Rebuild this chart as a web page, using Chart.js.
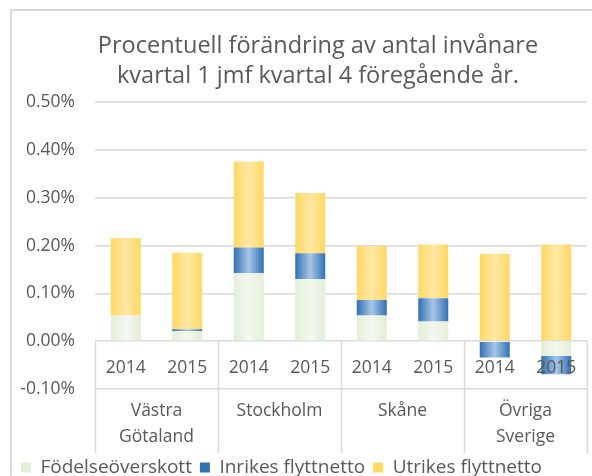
<!DOCTYPE html>
<html><head><meta charset="utf-8">
<script src="https://cdn.jsdelivr.net/npm/chart.js@4.4.1/dist/chart.umd.min.js"></script>
<style>
html,body{margin:0;padding:0;background:#fff;overflow:hidden;width:592px;height:476px;}
#frame{position:absolute;left:10px;top:9px;width:620px;height:480px;border:2px solid #d9d9d9;box-sizing:border-box;}
#wrap{position:absolute;left:0;top:0;width:636px;height:487px;}
</style></head>
<body>
<div id="frame"></div>
<div id="wrap"><canvas id="c"></canvas></div>
<script>
const years = ['2014','2015','2014','2015','2014','2015','2014','2015'];
const regions = [['Västra','Götaland'],['Stockholm'],['Skåne'],['Övriga','Sverige']];
const fodelse = [0.054, 0.021, 0.142, 0.130, 0.054, 0.041, 0.000, -0.031];
const inrikes = [0.000, 0.004, 0.054, 0.054, 0.032, 0.049, -0.034, -0.038];
const utrikes = [0.162, 0.160, 0.180, 0.126, 0.113, 0.112, 0.183, 0.202];
const yTicks = [-0.1, 0, 0.1, 0.2, 0.3, 0.4, 0.5];

const FONT = '"Open Sans", sans-serif';
const TXT = '#595959';
const CATPCT = 0.488;

function grad(edge, mid) {
  return function(c) {
    const chart = c.chart, xs = chart.scales.x;
    if (!xs || !chart.chartArea || c.dataIndex === undefined) return edge;
    const x = xs.getPixelForValue(c.dataIndex);
    const w = (xs.width / years.length) * CATPCT;
    const g = chart.ctx.createLinearGradient(x - w / 2, 0, x + w / 2, 0);
    g.addColorStop(0, edge); g.addColorStop(0.5, mid); g.addColorStop(1, edge);
    return g;
  };
}

const tablePlugin = {
  id: 'table',
  afterDatasetsDraw(chart) {
    const ctx = chart.ctx, xs = chart.scales.x, ys = chart.scales.y;
    const y0 = ys.getPixelForValue(0), y1 = ys.getPixelForValue(-0.1);
    const cw = xs.width / years.length;
    ctx.save();
    ctx.strokeStyle = '#d9d9d9'; ctx.lineWidth = 1.5;
    for (let g = 0; g <= regions.length; g++) {
      const x = Math.round(xs.left + g * 2 * cw) + 0.5;
      ctx.beginPath(); ctx.moveTo(x, y0); ctx.lineTo(x, y0 + 112); ctx.stroke();
    }
    ctx.fillStyle = TXT; ctx.textAlign = 'center'; ctx.textBaseline = 'middle';
    ctx.font = '17.5px ' + FONT;
    years.forEach((t, i) => ctx.fillText(t, xs.getPixelForValue(i), y0 + 27));
    regions.forEach((lines, g) => {
      const cx = xs.left + (g * 2 + 1) * cw;
      lines.forEach((l, k) => ctx.fillText(l, cx, y1 + 22 + k * 26));
    });
    ctx.restore();
  }
};

new Chart(document.getElementById('c'), {
  type: 'bar',
  data: {
    labels: years,
    datasets: [
      { label: 'Födelseöverskott', data: fodelse, backgroundColor: grad('#e2eed8', '#f3f8ef') },
      { label: 'Inrikes flyttnetto', data: inrikes, backgroundColor: grad('#3271b3', '#a6c6e7') },
      { label: 'Utrikes flyttnetto', data: utrikes, backgroundColor: grad('#ffd863', '#ffe8a4') }
    ]
  },
  options: {
    responsive: true, maintainAspectRatio: false, animation: false,
    devicePixelRatio: 1,
    datasets: { bar: { categoryPercentage: CATPCT, barPercentage: 1, borderWidth: 0 } },
    layout: { padding: { left: 13, right: 13, top: 31, bottom: 0 } },
    plugins: {
      title: { display: true, text: ['Procentuell förändring av antal invånare', 'kvartal 1 jmf kvartal 4 föregående år.'],
        color: TXT, font: { family: FONT, size: 23.5, weight: 'normal', lineHeight: 1.28 }, padding: { top: 0, bottom: 11 } },
      legend: { position: 'bottom', align: 'start',
        labels: { color: TXT, font: { family: FONT, size: 19 }, boxWidth: 10, boxHeight: 10, padding: 8 } },
      tooltip: { enabled: false }
    },
    scales: {
      x: { stacked: true, grid: { display: false }, border: { display: false }, ticks: { display: false },
        afterFit(s) { s.height = 61; } },
      y: { stacked: true, min: -0.1, max: 0.5,
        afterBuildTicks(s) { s.ticks = yTicks.map(v => ({ value: v })); },
        afterFit(s) { s.width = 82; },
        grid: { color: '#d9d9d9', lineWidth: 1.5, drawTicks: false },
        border: { display: false },
        ticks: { color: TXT, font: { family: FONT, size: 17.5 }, padding: 20,
          callback: v => v.toFixed(2) + '%' } },
      yRight: { position: 'right', min: 0, max: 1, display: true,
        grid: { display: false }, border: { display: false }, ticks: { display: false },
        afterFit(s) { s.width = 36; } }
    }
  },
  plugins: [tablePlugin]
});
</script>
</body></html>
